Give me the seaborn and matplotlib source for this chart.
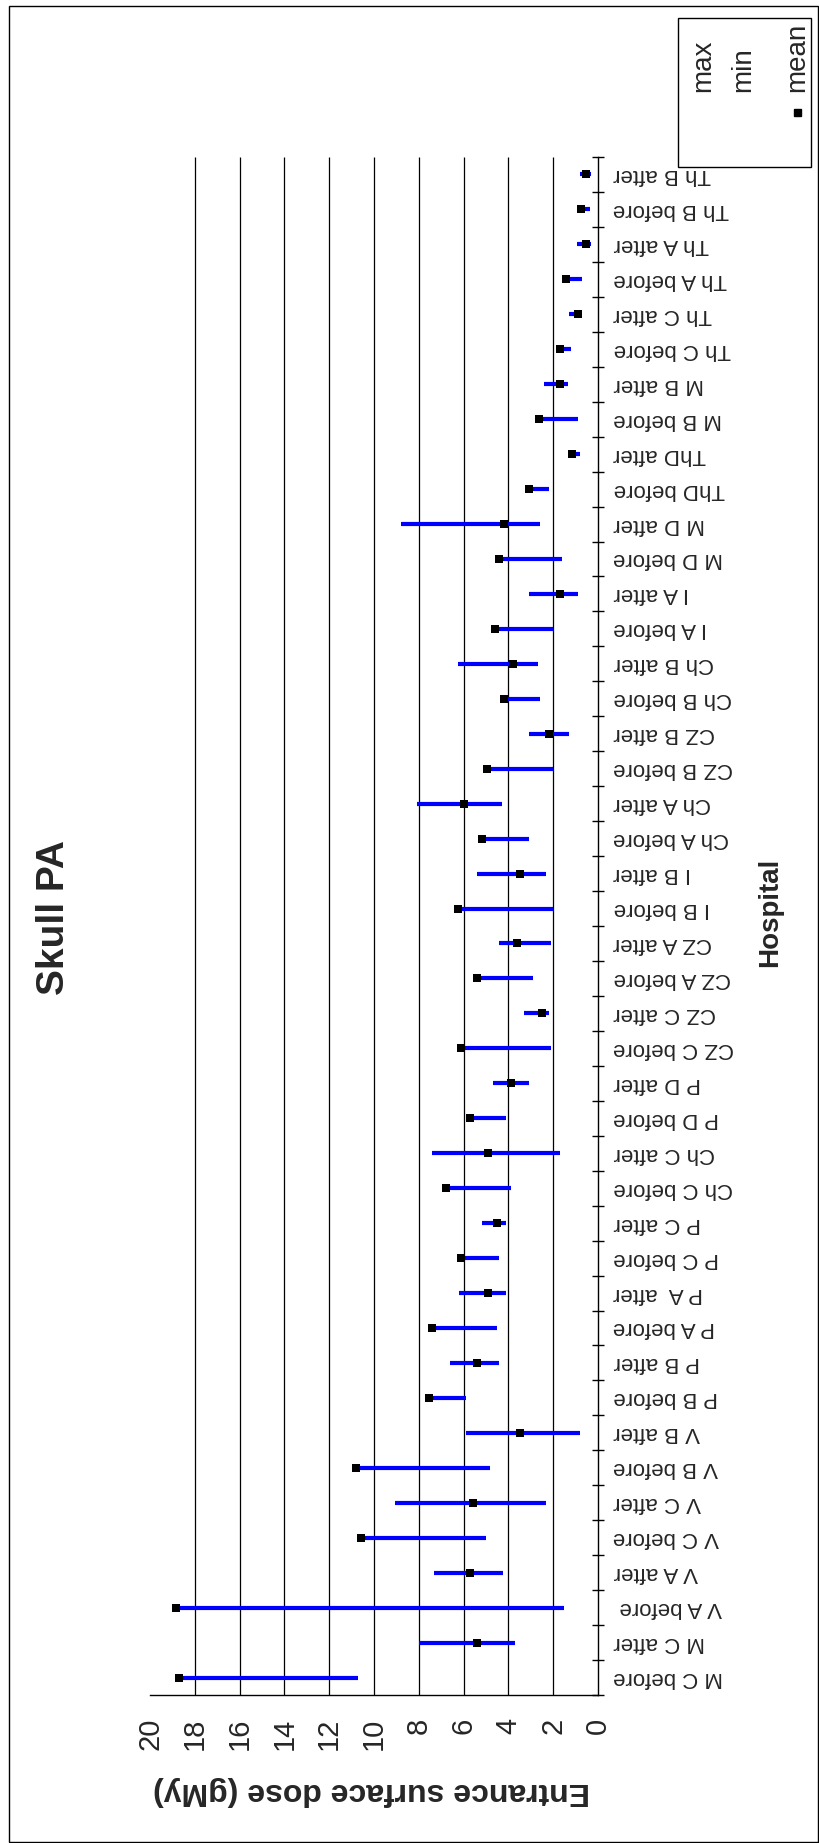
import numpy as np
import pandas as pd
import matplotlib
matplotlib.use("Agg")
import matplotlib.pyplot as plt
from matplotlib.patches import Rectangle
import seaborn as sns

# categories listed from the bottom of the (rotated) chart upwards
hospitals = ["M C before", "M C after", "V A before ", "V A after", "V C before", "V C after",
             "V B before", "V B after", "P B before", "P B after", "P A before", "P A  after",
             "P C before", "P C after", "Ch C before", "Ch C after", "P D before", "P D after",
             "CZ C before", "CZ C after", "CZ A before", "CZ A after", "I B before", "I B after",
             "Ch A before", "Ch A after", "CZ B before", "CZ B after", "Ch B before", "Ch B after",
             "I A before", "I A after", "M D before", "M D after", "ThD before", "ThD after",
             "M B before", "M B after", "Th C before", "Th C after", "Th A before", "Th A after",
             "Th B before", "Th B after"]

max_dose = [18.7, 8.0, 18.85, 7.3, 10.6, 9.05, 10.8, 5.9, 7.55, 6.6, 7.4, 6.2,
            6.1, 5.2, 6.8, 7.4, 5.7, 4.7, 6.1, 3.3, 5.4, 4.4, 6.25, 5.4,
            5.2, 8.1, 4.95, 3.1, 4.2, 6.25, 4.6, 3.1, 4.4, 8.8, 3.1, 1.15,
            2.65, 2.4, 1.7, 1.3, 1.5, 0.95, 0.75, 0.8]

min_dose = [10.7, 3.7, 1.5, 4.25, 5.0, 2.3, 4.8, 0.8, 5.9, 4.4, 4.5, 4.1,
            4.4, 4.1, 3.9, 1.7, 4.1, 3.1, 2.1, 2.2, 2.9, 2.1, 2.0, 2.3,
            3.1, 4.3, 2.0, 1.3, 2.6, 2.7, 2.0, 0.9, 1.6, 2.6, 2.2, 0.8,
            0.9, 1.35, 1.2, 0.8, 0.7, 0.3, 0.36, 0.3]

mean_dose = [18.7, 5.4, 18.85, 5.7, 10.6, 5.6, 10.8, 3.5, 7.55, 5.4, 7.4, 4.9,
             6.1, 4.5, 6.8, 4.9, 5.7, 3.9, 6.1, 2.5, 5.4, 3.6, 6.25, 3.5,
             5.2, 6.0, 4.95, 2.2, 4.2, 3.8, 4.6, 1.7, 4.4, 4.2, 3.1, 1.15,
             2.65, 1.7, 1.7, 0.9, 1.45, 0.55, 0.74, 0.55]

dose_ticks = list(range(0, 21, 2))
legend_labels = ["max", "min", "mean"]

W, H = 819, 1843


def main():
    sns.set_style("white")
    plt.rcParams['font.family'] = ['Liberation Sans', 'DejaVu Sans']

    df = pd.DataFrame({'hospital': hospitals, 'max': max_dose,
                       'min': min_dose, 'mean': mean_dose})
    df['pos'] = np.arange(len(df))
    n = len(df)

    fig = plt.figure(figsize=(W / 100, H / 100), dpi=100)
    ax = fig.add_axes([150 / W, 1 - 1695 / H, 448 / W, 1538 / H])

    # vertical gridlines (none at 20)
    ax.vlines(dose_ticks[1:-1], -0.5, n - 0.5, color='black', lw=0.9, zorder=1)

    ax.hlines(df['pos'], df['min'], df['max'], color='#0000ff', lw=3, zorder=3)
    sns.scatterplot(data=df, x='mean', y='pos', marker='s', color='black', s=28,
                    linewidth=0, ax=ax, zorder=4, legend=False)

    ax.set_xlim(20, 0)
    ax.set_ylim(-0.5, n - 0.5)
    ax.set_xlabel('')
    ax.set_ylabel('')

    for s in ['top', 'left']:
        ax.spines[s].set_visible(False)
    for s in ['bottom', 'right']:
        ax.spines[s].set_color('black')
        ax.spines[s].set_linewidth(1)

    ax.set_xticks(dose_ticks)
    ax.set_xticklabels([str(t) for t in dose_ticks])
    ax.tick_params(axis='x', direction='inout', length=13, width=1, color='black',
                   labelsize=21, pad=10, labelrotation=90)

    ax.yaxis.tick_right()
    ax.set_yticks(np.arange(-0.5, n, 1))
    ax.set_yticklabels([])
    ax.set_yticks(df['pos'], minor=True)
    ax.set_yticklabels(df['hospital'], minor=True)
    ax.tick_params(axis='y', which='major', direction='inout', length=8, width=1,
                   color='black')
    ax.tick_params(axis='y', which='minor', length=0, labelsize=16, pad=11,
                   labelrotation=180)
    for lab in ax.get_yticklabels(minor=True):
        lab.set_ha('left')
        lab.set_va('center')

    fig.text(372 / W, 1 - 1791 / H, 'Entrance surface dose (gMy)', rotation=180,
             ha='center', va='center', fontsize=23, fontweight='bold')
    fig.text(54 / W, 1 - 918 / H, 'Skull PA', rotation=90, ha='center', va='center',
             fontsize=28, fontweight='bold')
    fig.text(770 / W, 1 - 912 / H, 'Hospital', rotation=90, ha='center', va='center',
             fontsize=20, fontweight='bold')

    # legend, drawn rotated like the rest of the chart
    fig.add_artist(Rectangle((678 / W, 1 - 167 / H), 133 / W, 149 / H,
                             transform=fig.transFigure, fill=False, ec='black', lw=1))
    for lx, lab in zip([703, 743, 797], legend_labels):
        fig.text(lx / W, 1 - 92 / H, lab, rotation=90, ha='center', va='bottom',
                 fontsize=20)
    fig.add_artist(Rectangle((794 / W, 1 - 116 / H), 7 / W, 7 / H,
                             transform=fig.transFigure, fc='black', ec='black'))

    # outer frame
    fig.add_artist(Rectangle((9 / W, 1 / H), 809 / W, 1836 / H,
                             transform=fig.transFigure, fill=False, ec='black', lw=1))

    fig.savefig('out.png', dpi=100)


if __name__ == "__main__":
    main()
